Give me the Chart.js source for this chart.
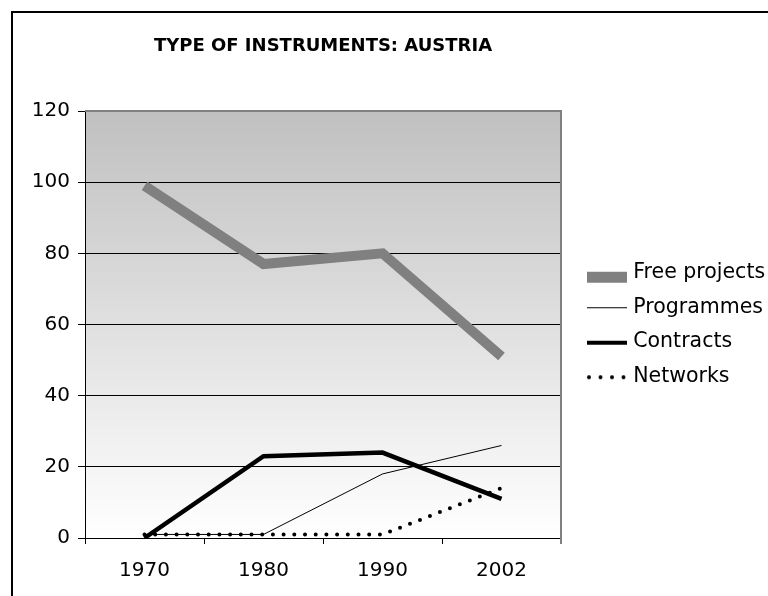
<!DOCTYPE html>
<html><head><meta charset="utf-8">
<script src="https://cdn.jsdelivr.net/npm/chart.js@4"></script>
<style>
html,body{margin:0;padding:0;background:#fff;overflow:hidden;width:768px;height:596px;}
#frame{position:absolute;left:11px;top:11px;width:800px;height:620px;border-left:2px solid #000;border-top:2px solid #000;}
canvas{position:absolute;left:0;top:0;}
</style></head><body>
<div id="frame"><canvas id="c" width="790" height="583"></canvas></div>
<script>
const categories = ['1970', '1980', '1990', '2002'];
const freeProjects = [99, 77, 80, 51];
const programmes = [1, 1, 18, 26];
const contracts = [0, 23, 24, 11];
const networks = [1, 1, 1, 14];
const seriesNames = ['Free projects', 'Programmes', 'Contracts', 'Networks'];
const yMin = 0, yMax = 120, yStep = 20;

const FONT = 'DejaVu Sans';
const LEGEND_FONT = 20.5, LEGEND_PAD = 14, BOXW = 48, LEGEND_W = 210;

function makeSymbol(kind) {
  const cv = document.createElement('canvas');
  cv.width = 56; cv.height = 30;
  const g = cv.getContext('2d');
  const x0 = 16, x1 = 56, cy = 15;
  if (kind === 0) {
    g.fillStyle = '#808080';
    g.fillRect(x0, cy - 1, x1 - x0, 11);
  } else if (kind === 1) {
    g.fillStyle = '#000';
    g.fillRect(x0, cy, x1 - x0, 1);
  } else if (kind === 2) {
    g.fillStyle = '#000';
    g.fillRect(x0, cy - 1, x1 - x0, 4);
  } else {
    g.fillStyle = '#000';
    for (let i = 0; i < 4; i++) {
      g.beginPath();
      g.arc(x0 + 2 + i * 11.5, cy + 1, 2, 0, Math.PI * 2);
      g.fill();
    }
  }
  return cv;
}
const symbols = [0, 1, 2, 3].map(makeSymbol);

const plotDecor = {
  id: 'plotDecor',
  beforeDraw(chart) {
    const {ctx, chartArea: a} = chart;
    ctx.save();
    ctx.fillStyle = '#fff';
    ctx.fillRect(0, 0, chart.width, chart.height);
    const grd = ctx.createLinearGradient(0, a.top, 0, a.bottom);
    grd.addColorStop(0, '#c0c0c0');
    grd.addColorStop(1, '#ffffff');
    ctx.fillStyle = grd;
    ctx.fillRect(a.left, a.top, a.right - a.left, a.bottom - a.top);
    ctx.restore();
  },
  beforeDatasetsDraw(chart) {
    const {ctx, chartArea: a} = chart;
    ctx.save();
    ctx.strokeStyle = '#808080';
    ctx.lineWidth = 2;
    ctx.beginPath();
    ctx.moveTo(a.left, a.top);
    ctx.lineTo(a.right, a.top);
    ctx.lineTo(a.right, a.bottom + 6);
    ctx.stroke();
    ctx.restore();
  }
};

new Chart(document.getElementById('c'), {
  type: 'line',
  data: {
    labels: categories,
    datasets: [
      { label: seriesNames[0], data: freeProjects, borderColor: '#808080', backgroundColor: '#808080', borderWidth: 10, borderCapStyle: 'butt', borderJoinStyle: 'miter', pointRadius: 0, tension: 0, order: 4 },
      { label: seriesNames[1], data: programmes, borderColor: '#000', backgroundColor: '#000', borderWidth: 1, pointRadius: 0, tension: 0, order: 3 },
      { label: seriesNames[2], data: contracts, borderColor: '#000', backgroundColor: '#000', borderWidth: 4.5, borderCapStyle: 'butt', borderJoinStyle: 'miter', pointRadius: 0, tension: 0, order: 2 },
      { label: seriesNames[3], data: networks, borderColor: '#000', backgroundColor: '#000', borderWidth: 4, borderDash: [0, 10.7], borderCapStyle: 'round', pointRadius: 0, tension: 0, order: 1 }
    ]
  },
  options: {
    responsive: false,
    animation: false,
    devicePixelRatio: 1,
    layout: { padding: { left: 0, right: 32, top: 0, bottom: 0 } },
    plugins: {
      title: {
        display: true, text: 'TYPE OF INSTRUMENTS: AUSTRIA', fullSize: false, color: '#000',
        font: { family: FONT, size: 18, weight: 'bold' }, padding: { top: 23, bottom: 53.4 }
      },
      legend: {
        position: 'right', fullSize: false, align: 'center', maxWidth: LEGEND_W,
        labels: {
          usePointStyle: true, pointStyleWidth: BOXW, padding: LEGEND_PAD, color: '#000',
          font: { family: FONT, size: LEGEND_FONT },
          generateLabels(chart) {
            return chart.data.datasets.map((ds, i) => ({
              text: ds.label, pointStyle: symbols[i], datasetIndex: i, hidden: false,
              fillStyle: ds.borderColor, strokeStyle: ds.borderColor, lineWidth: 0, fontColor: '#000'
            }));
          }
        }
      },
      tooltip: { enabled: false }
    },
    scales: {
      x: {
        offset: true,
        grid: { offset: true, drawOnChartArea: false, drawTicks: true, tickLength: 6, color: '#000', lineWidth: 1 },
        border: { display: true, color: '#000', width: 1 },
        ticks: { color: '#000', font: { family: FONT, size: 20 }, padding: 15, maxRotation: 0, autoSkip: false },
        afterFit(s) { s.height = 58; }
      },
      y: {
        min: yMin, max: yMax,
        ticks: { stepSize: yStep, color: '#000', font: { family: FONT, size: 20 }, padding: 8 },
        grid: { color: '#000', lineWidth: 1, tickLength: 7, drawTicks: true },
        border: { display: true, color: '#000', width: 1 },
        afterFit(s) { s.width = 72; }
      }
    }
  },
  plugins: [plotDecor]
});
</script>
</body></html>
